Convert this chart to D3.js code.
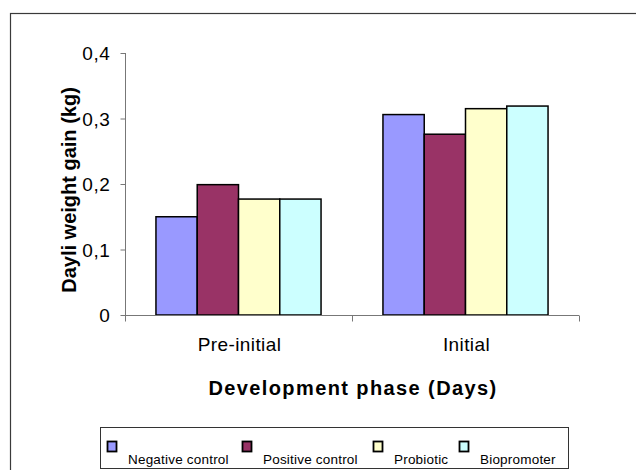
<!DOCTYPE html>
<html>
<head>
<meta charset="utf-8">
<script src="https://cdn.jsdelivr.net/npm/d3@7"></script>
<style>
  body { margin: 0; background: #fff; }
  svg text { font-family: "Liberation Sans", Arial, sans-serif; fill: #000; }
</style>
</head>
<body>
<svg id="chart" width="636" height="470"></svg>
<script>
const phases = ["Pre-initial", "Initial"]
const groups = ["Negative control", "Positive control", "Probiotic", "Biopromoter"]
const negativeControl = [0.150, 0.306]
const positiveControl = [0.199, 0.276]
const probiotic = [0.177, 0.315]
const biopromoter = [0.177, 0.319]
const yTicks = [0, 0.1, 0.2, 0.3, 0.4]
const colors = ["#9999ff", "#993366", "#ffffcc", "#ccffff"]

const values = [negativeControl, positiveControl, probiotic, biopromoter]

const drawChart = () => {
    let svg = d3.select("#chart")

    // outer frame
    svg.append("rect")
        .attr("x", 10.5).attr("y", 13.5)
        .attr("width", 660).attr("height", 480)
        .attr("fill", "none")
        .attr("stroke", "#3a3a3a")
        .attr("stroke-width", 1.2)

    let x = d3.scaleBand().domain(phases).range([125, 579]).padding(0)
    let xs = d3.scaleBand().domain(groups).range([0, x.bandwidth()])
        .paddingInner(0).paddingOuter(0.75)
    let y = d3.scaleLinear().domain([0, 0.4]).range([315, 53])

    // bars
    groups.forEach((g, gi) => {
        svg.append("g")
            .selectAll("rect")
            .data(phases.map((p, i) => ({phase: p, value: values[gi][i]})))
            .enter()
            .append("rect")
            .attr("x", d => x(d.phase) + xs(g))
            .attr("y", d => y(d.value))
            .attr("width", xs.bandwidth())
            .attr("height", d => y(0) - y(d.value))
            .attr("fill", colors[gi])
            .attr("stroke", "#000")
            .attr("stroke-width", 1.5)
    })

    // y axis
    let yAxis = svg.append("g")
        .attr("transform", "translate(125.5,0)")
        .call(d3.axisLeft(y).tickValues(yTicks).tickSize(5).tickPadding(10)
            .tickFormat(d => d === 0 ? "0" : d3.format(".1f")(d).replace(".", ",")))
    yAxis.select(".domain").attr("stroke", "#777").attr("d", "M0,53V321")
    yAxis.selectAll(".tick line").attr("stroke", "#777")
    yAxis.selectAll(".tick text")
        .attr("font-size", 19)
        .attr("letter-spacing", 0.6)
        .attr("fill", "#000")
        .attr("dy", "0.36em")

    // x axis
    let xAxis = svg.append("g")
        .attr("transform", "translate(0,315.5)")
        .call(d3.axisBottom(x).tickSize(0).tickPadding(22))
    xAxis.select(".domain").attr("stroke", "#777").attr("d", "M125,0H579")
    xAxis.selectAll(".tick text")
        .attr("font-size", 19)
        .attr("letter-spacing", 0.4)
        .attr("fill", "#000")
        .attr("dx", 1)
    xAxis.append("g")
        .selectAll("line")
        .data([125, 352, 579])
        .enter()
        .append("line")
        .attr("x1", d => d + 0.5).attr("x2", d => d + 0.5)
        .attr("y1", 0).attr("y2", 6)
        .attr("stroke", "#777")

    // axis titles
    svg.append("text")
        .attr("transform", "translate(76,190) rotate(-90)")
        .attr("text-anchor", "middle")
        .attr("font-size", 20)
        .attr("font-weight", "bold")
        .text("Dayli weight gain (kg)")

    svg.append("text")
        .attr("x", 353)
        .attr("y", 395)
        .attr("text-anchor", "middle")
        .attr("font-size", 20)
        .attr("font-weight", "bold")
        .attr("letter-spacing", 1.4)
        .text("Development phase (Days)")

    // legend
    svg.append("rect")
        .attr("x", 100.5).attr("y", 427.5)
        .attr("width", 468).attr("height", 41)
        .attr("fill", "#fff")
        .attr("stroke", "#333")

    const legendX = [107, 242, 373, 459]
    let legend = svg.append("g")
        .selectAll("g")
        .data(groups)
        .enter()
        .append("g")
        .attr("transform", (d, i) => `translate(${legendX[i]},0)`)
    legend.append("rect")
        .attr("x", 0.5).attr("y", 441.5)
        .attr("width", 9).attr("height", 10)
        .attr("fill", (d, i) => colors[i])
        .attr("stroke", "#000")
        .attr("stroke-width", 1.8)
    legend.append("text")
        .attr("x", 21)
        .attr("y", 464)
        .attr("font-size", 13.5)
        .attr("letter-spacing", 0.2)
        .text(d => d)
}

drawChart()
</script>
</body>
</html>
